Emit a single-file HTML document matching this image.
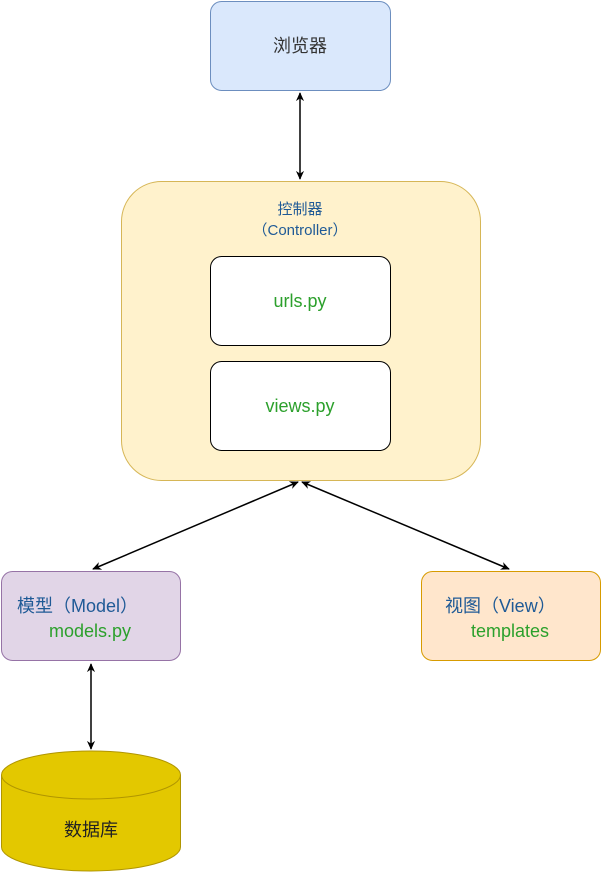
<!DOCTYPE html>
<html><head><meta charset="utf-8"><style>
html,body{margin:0;padding:0;background:#fff;}
svg{display:block;}
text{font-family:"Liberation Sans","Noto Sans CJK SC",sans-serif;}
</style></head><body>
<svg width="602" height="872" viewBox="0 0 602 872" xmlns="http://www.w3.org/2000/svg">
<defs>
<marker id="a" viewBox="0 0 10 10" refX="9" refY="5" markerWidth="9" markerHeight="9" markerUnits="userSpaceOnUse" orient="auto-start-reverse">
<path d="M0,0.5 L10,5 L0,9.5 L3,5 Z" fill="#000"/></marker>
</defs>
<rect x="210.5" y="1.5" width="180" height="89" rx="11" fill="#dae8fc" stroke="#6c8ebf"/>
<text x="300" y="52" font-size="18" text-anchor="middle" fill="#333">浏览器</text>
<line x1="300" y1="93" x2="300" y2="179" stroke="#000" stroke-width="1.5" marker-start="url(#a)" marker-end="url(#a)"/>
<rect x="121.5" y="181.5" width="359" height="299" rx="40" fill="#fff2cc" stroke="#d6b656"/>
<text x="300" y="214" font-size="15" text-anchor="middle" fill="#1f5a96">控制器</text>
<text x="300" y="235" font-size="15" text-anchor="middle" fill="#1f5a96">（Controller）</text>
<rect x="210.5" y="256.5" width="180" height="89" rx="11" fill="#fff" stroke="#000"/>
<text x="300" y="307" font-size="18" text-anchor="middle" fill="#2ca02c">urls.py</text>
<rect x="210.5" y="361.5" width="180" height="89" rx="11" fill="#fff" stroke="#000"/>
<text x="300" y="412" font-size="18" text-anchor="middle" fill="#2ca02c">views.py</text>
<line x1="298" y1="482" x2="93" y2="569" stroke="#000" stroke-width="1.5" marker-start="url(#a)" marker-end="url(#a)"/>
<line x1="302" y1="482" x2="509" y2="569" stroke="#000" stroke-width="1.5" marker-start="url(#a)" marker-end="url(#a)"/>
<rect x="1.5" y="571.5" width="179" height="89" rx="11" fill="#e1d5e7" stroke="#9673a6"/>
<text x="17" y="612" font-size="18" fill="#1f5a96">模型（Model）</text>
<text x="90" y="637" font-size="18" text-anchor="middle" fill="#2ca02c">models.py</text>
<rect x="421.5" y="571.5" width="179" height="89" rx="11" fill="#ffe6cc" stroke="#d79b00"/>
<text x="445" y="612" font-size="18" fill="#1f5a96">视图（View）</text>
<text x="510" y="637" font-size="18" text-anchor="middle" fill="#2ca02c">templates</text>
<line x1="91" y1="664" x2="91" y2="749" stroke="#000" stroke-width="1.5" marker-start="url(#a)" marker-end="url(#a)"/>
<path d="M1.5,775 A89.5,24 0 0 1 180.5,775 L180.5,847 A89.5,24 0 0 1 1.5,847 Z" fill="#e3c800" stroke="#b09500"/>
<path d="M1.5,775 A89.5,24 0 0 0 180.5,775" fill="none" stroke="#b09500"/>
<text x="91" y="836" font-size="18" text-anchor="middle" fill="#222">数据库</text>
</svg>
</body></html>
